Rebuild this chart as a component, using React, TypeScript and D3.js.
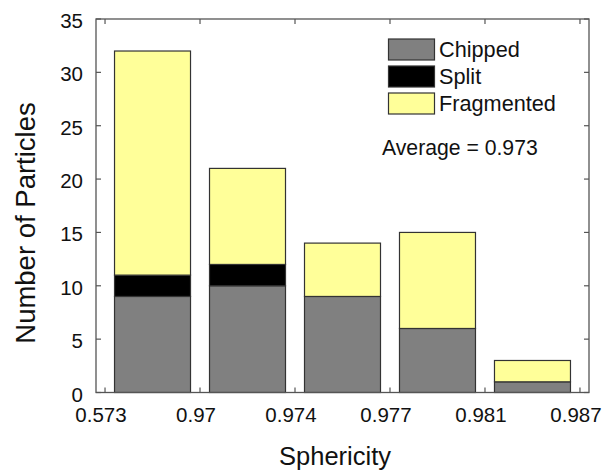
import React from "react";
import * as d3 from "d3";

const tickLabels = ["0.573", "0.97", "0.974", "0.977", "0.981", "0.987"];
const chipped = [9, 10, 9, 6, 1];
const split = [2, 2, 0, 0, 0];
const fragmented = [21, 9, 5, 9, 2];
const seriesNames = ["Chipped", "Split", "Fragmented"];
const seriesColors = ["#808080", "#000000", "#ffff99"];
const yTicks = [0, 5, 10, 15, 20, 25, 30, 35];
const averageText = "Average = 0.973";

const W = 603;
const H = 472;
const L = 96, R = 589, T = 19, B = 392.5;
const FONT = "'Liberation Sans', Arial, Helvetica, sans-serif";

export default function App() {
  const x = d3.scaleLinear().domain([-0.095, 5.095]).range([L, R]);
  const y = d3.scaleLinear().domain([0, 35]).range([B, T]);
  const rows = chipped.map((c, i) => ({ i, Chipped: c, Split: split[i], Fragmented: fragmented[i] }));
  const stacked = d3.stack<any>().keys(seriesNames)(rows);
  const barW = 0.8;
  const tickLen = 5;
  const axisColor = "#555";

  return (
    <svg width={W} height={H} style={{ position: "absolute", left: 0, top: 0 }} fontFamily={FONT}>
      <rect x={0} y={0} width={W} height={H} fill="#fff" />
      {stacked.map((s, si) => (
        <g key={s.key}>
          {s.map((d, i) =>
            d[1] - d[0] > 0 ? (
              <rect
                key={i}
                x={x(i + 0.5 - barW / 2)}
                width={x(i + 0.5 + barW / 2) - x(i + 0.5 - barW / 2)}
                y={y(d[1])}
                height={y(d[0]) - y(d[1])}
                fill={seriesColors[si]}
                stroke="#333"
                strokeWidth={1.2}
              />
            ) : null
          )}
        </g>
      ))}
      {/* frame */}
      <rect x={L} y={T} width={R - L} height={B - T} fill="none" stroke={axisColor} strokeWidth={1.3} />
      {/* x ticks */}
      {tickLabels.map((t, i) => (
        <g key={t}>
          <line x1={x(i)} x2={x(i)} y1={B} y2={B - tickLen} stroke={axisColor} strokeWidth={1.2} />
          <line x1={x(i)} x2={x(i)} y1={T} y2={T + tickLen} stroke={axisColor} strokeWidth={1.2} />
          <text x={x(i) - 4} y={421.5} textAnchor="middle" fontSize={20.5} fill="#111">
            {t}
          </text>
        </g>
      ))}
      {/* y ticks */}
      {yTicks.map((v) => (
        <g key={v}>
          <line x1={L} x2={L + tickLen} y1={y(v)} y2={y(v)} stroke={axisColor} strokeWidth={1.2} />
          <line x1={R} x2={R - tickLen} y1={y(v)} y2={y(v)} stroke={axisColor} strokeWidth={1.2} />
          <text x={83} y={y(v) + 9} textAnchor="end" fontSize={20.5} fill="#111">
            {v}
          </text>
        </g>
      ))}
      {/* axis titles */}
      <text x={335} y={465} textAnchor="middle" fontSize={25.5} fill="#111">
        Sphericity
      </text>
      <text transform={`translate(35, 223) rotate(-90)`} textAnchor="middle" fontSize={27.5} fill="#111">
        Number of Particles
      </text>
      {/* legend */}
      {seriesNames.map((n, i) => (
        <g key={n}>
          <rect x={388.5} y={39 + i * 27} width={46} height={21} fill={seriesColors[i]} stroke="#333" strokeWidth={1.2} />
          <text x={439} y={57 + i * 27} fontSize={21.7} fill="#111">
            {n}
          </text>
        </g>
      ))}
      <text x={382} y={155} fontSize={21.2} fill="#111">
        {averageText}
      </text>
    </svg>
  );
}
